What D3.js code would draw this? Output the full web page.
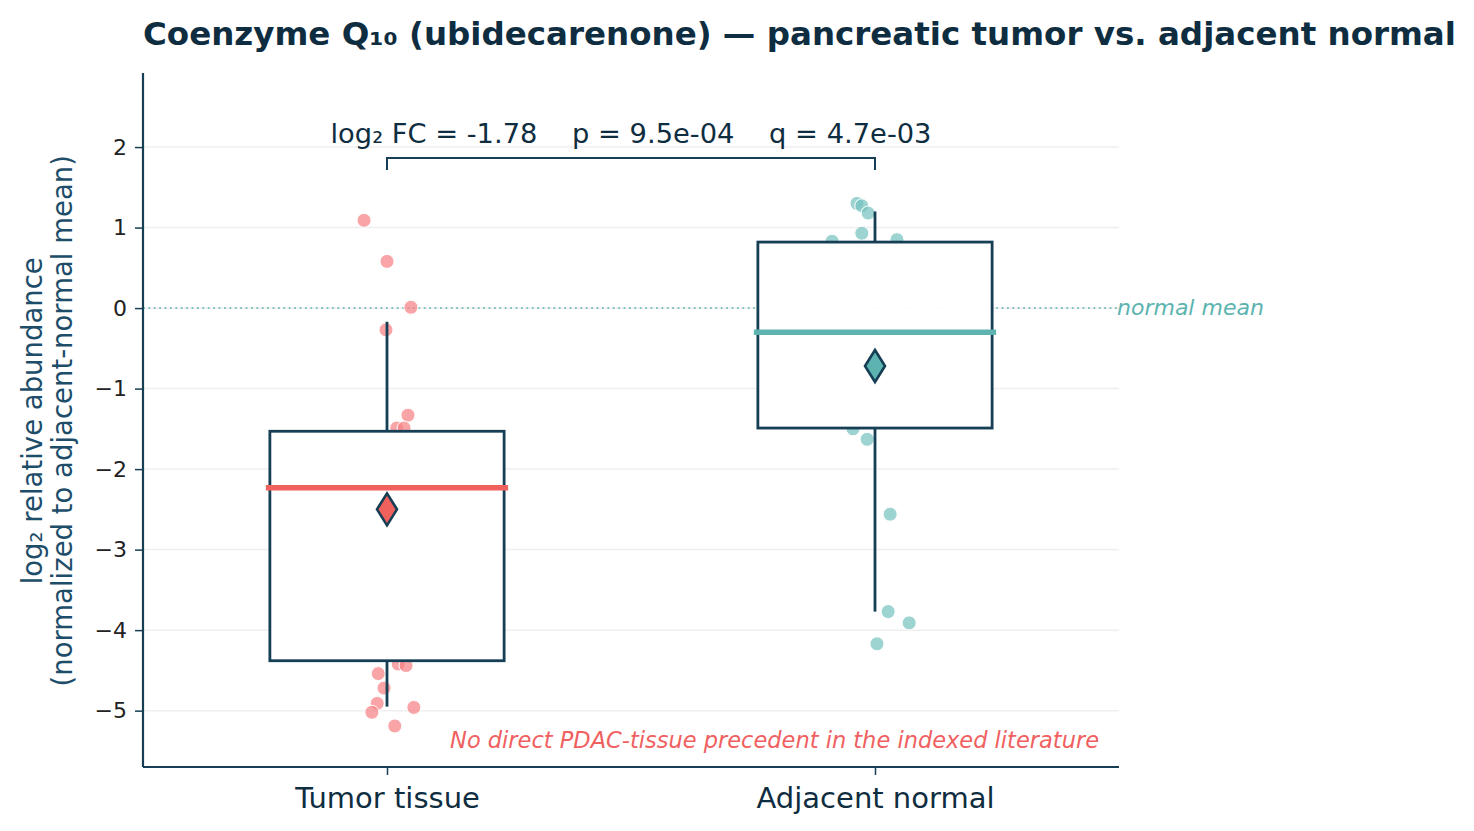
<!DOCTYPE html>
<html><head><meta charset="utf-8">
<script src="https://cdn.jsdelivr.net/npm/d3@7"></script>
<style>
body{margin:0;background:#fff;}
svg{font-family:"DejaVu Sans",sans-serif;}
</style></head>
<body><svg id="c" width="1474" height="831"></svg>
<script>
const categories = ["Tumor tissue", "Adjacent normal"];
const groupColors = ["#f0605d", "#5cb3b0"];
const pointColors = ["#f77f83", "#74c2bf"];
// visible jittered sample points: [jitter offset (fraction of band), value]
const tumorPoints = [[-0.047,1.09],[0,0.58],[0.049,0.01],[-0.002,-0.27],[0.043,-1.33],[0.02,-1.49],[0.035,-1.49],
  [0.023,-4.42],[0.039,-4.44],[-0.018,-4.54],[-0.006,-4.72],[-0.02,-4.91],[-0.031,-5.02],[0.055,-4.96],[0.016,-5.19]];
const normalPoints = [[-0.037,1.30],[-0.027,1.27],[-0.014,1.18],[-0.027,0.93],[-0.088,0.83],[0.045,0.85],
  [-0.045,-1.50],[-0.016,-1.63],[0.031,-2.56],[0.027,-3.77],[0.070,-3.91],[0.004,-4.17]];
const seriesPoints = [tumorPoints, normalPoints];
// box statistics: [whiskerLow, q1, median, q3, whiskerHigh, mean]
const boxStats = [[-4.95,-4.38,-2.23,-1.53,-0.17,-2.50],[-3.77,-1.49,-0.30,0.82,1.20,-0.72]];
const yTicks = [-5,-4,-3,-2,-1,0,1,2];
const titleText = "Coenzyme Q\u2081\u2080 (ubidecarenone) \u2014 pancreatic tumor vs. adjacent normal";
const statText = "log\u2082 FC = -1.78    p = 9.5e-04    q = 4.7e-03";
const noteText = "No direct PDAC-tissue precedent in the indexed literature";

const svg = d3.select("#c");
const L=143, R=1119, T=73, B=767;
const navy = "#163f55";
const x = d3.scalePoint().domain(categories).range([L,R]).padding(0.5);
const bw = (R-L)/2;
const y = d3.scaleLinear().domain([-5.7,2.92]).range([B,T]);

// grid
svg.append("g").selectAll("line").data(yTicks).join("line")
  .attr("x1",L).attr("x2",R).attr("y1",d=>y(d)).attr("y2",d=>y(d))
  .attr("stroke","#efefef").attr("stroke-width",1.5);

// normal mean line
svg.append("line").attr("x1",L).attr("x2",1117).attr("y1",y(0)).attr("y2",y(0))
  .attr("stroke","#5cb3b0").attr("stroke-width",1.8).attr("stroke-dasharray","1.8,3.6").attr("opacity",0.85);
svg.append("text").attr("x",1117).attr("y",y(0)+7).attr("font-style","italic").attr("font-size",22)
  .attr("fill","#5cb3b0").text("normal mean");

// points
categories.forEach((c,i)=>{
  svg.append("g").selectAll("circle").data(seriesPoints[i]).join("circle")
    .attr("cx",d=>x(c)+d[0]*bw).attr("cy",d=>y(d[1])).attr("r",7)
    .attr("fill",pointColors[i]).attr("fill-opacity",0.7)
    .attr("stroke","#fff").attr("stroke-width",1);
});

// boxes
const boxW = 0.48*bw;
categories.forEach((c,i)=>{
  const s = boxStats[i], cx = x(c);
  const g = svg.append("g");
  g.append("line").attr("x1",cx).attr("x2",cx).attr("y1",y(s[0])).attr("y2",y(s[1]))
    .attr("stroke",navy).attr("stroke-width",2.8);
  g.append("line").attr("x1",cx).attr("x2",cx).attr("y1",y(s[3])).attr("y2",y(s[4]))
    .attr("stroke",navy).attr("stroke-width",2.8);
  g.append("rect").attr("x",cx-boxW/2).attr("width",boxW).attr("y",y(s[3])).attr("height",y(s[1])-y(s[3]))
    .attr("fill","#fff").attr("fill-opacity",0.96).attr("stroke",navy).attr("stroke-width",2.8);
  g.append("line").attr("x1",cx-boxW/2-4).attr("x2",cx+boxW/2+4).attr("y1",y(s[2])).attr("y2",y(s[2]))
    .attr("stroke",groupColors[i]).attr("stroke-width",5.5);
  const my = y(s[5]);
  g.append("path").attr("d",`M${cx},${my-16}L${cx+10},${my}L${cx},${my+16}L${cx-10},${my}Z`)
    .attr("fill",groupColors[i]).attr("stroke",navy).attr("stroke-width",2.6).attr("stroke-linejoin","miter");
});

// axes
const yAxis = svg.append("g").attr("transform",`translate(${L},0)`)
  .call(d3.axisLeft(y).tickValues(yTicks).tickSize(8).tickPadding(8).tickFormat(d=>d<0?"\u2212"+Math.abs(d):d));
yAxis.select(".domain").remove();
yAxis.selectAll(".tick line").attr("stroke",navy).attr("stroke-width",1.5);
yAxis.selectAll(".tick text").attr("font-size",22).attr("fill","#222").attr("font-family","DejaVu Sans");
const xAxis = svg.append("g").attr("transform",`translate(0,${B})`)
  .call(d3.axisBottom(x).tickSize(8).tickPadding(8));
xAxis.select(".domain").remove();
xAxis.selectAll(".tick line").attr("stroke",navy).attr("stroke-width",1.5);
xAxis.selectAll(".tick text").attr("font-size",29).attr("fill","#0f2d40").attr("font-family","DejaVu Sans")
  .attr("y",41).attr("dy",0);
svg.append("line").attr("x1",L).attr("x2",L).attr("y1",T).attr("y2",B).attr("stroke",navy).attr("stroke-width",2.2);
svg.append("line").attr("x1",L).attr("x2",R).attr("y1",B).attr("y2",B).attr("stroke",navy).attr("stroke-width",2.2);

// y label
const yl = svg.append("text").attr("transform",`translate(42,${y(-1.40)}) rotate(-90)`)
  .attr("text-anchor","middle").attr("font-size",27.5).attr("fill","#1d4d69");
yl.append("tspan").attr("x",0).attr("dy",0).text("log\u2082 relative abundance");
yl.append("tspan").attr("x",0).attr("dy",30).text("(normalized to adjacent-normal mean)");

// title
svg.append("text").attr("x",143).attr("y",45).attr("font-size",32.5).attr("font-weight","bold")
  .attr("fill","#0f2d40").text(titleText);

// stat bracket
const bx1 = x(categories[0]), bx2 = x(categories[1]);
svg.append("path").attr("d",`M${bx1},170V158H${bx2}V170`).attr("fill","none").attr("stroke",navy).attr("stroke-width",2);
svg.append("text").attr("x",(bx1+bx2)/2).attr("y",143).attr("text-anchor","middle").attr("font-size",27.3)
  .attr("fill","#0f2d40").style("white-space","pre").text(statText);

// note
svg.append("text").attr("x",1099).attr("y",748).attr("text-anchor","end").attr("font-style","italic")
  .attr("font-size",22.5).attr("fill","#f06060").text(noteText);
</script></body></html>
